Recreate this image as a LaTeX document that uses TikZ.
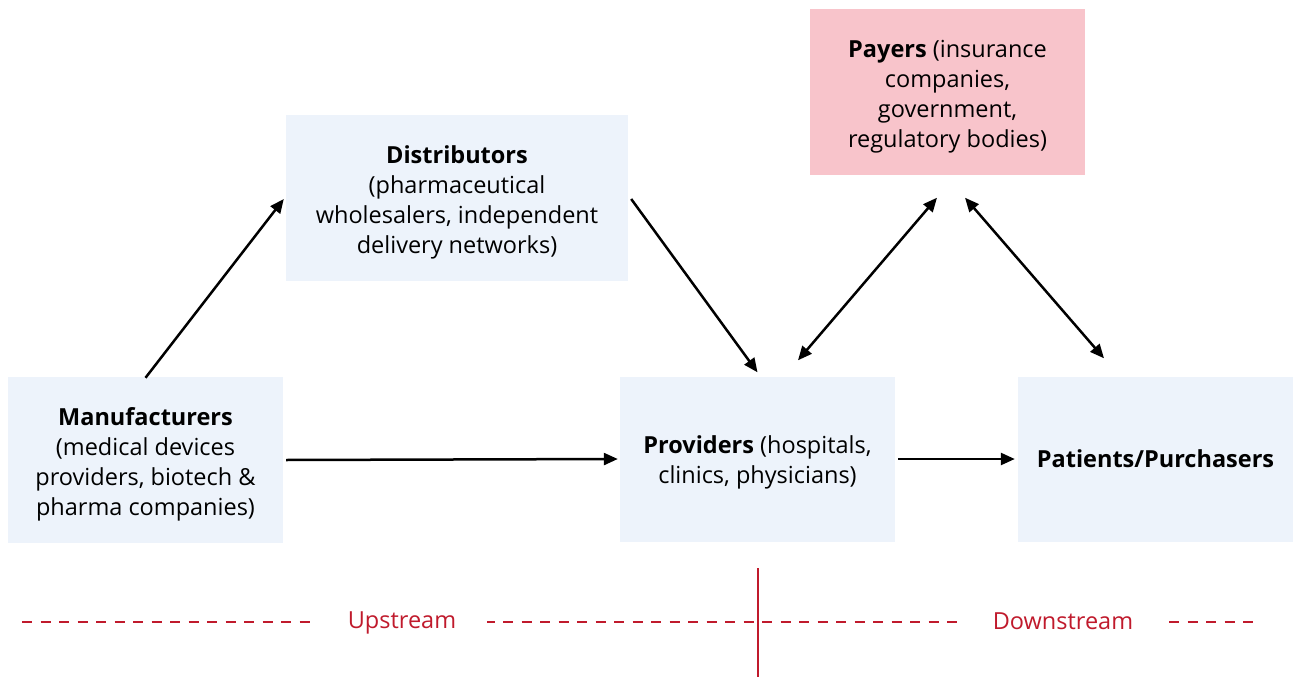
\documentclass[tikz,border=0pt]{standalone}
\usepackage{fontspec}
\setmainfont{Open Sans}
\usetikzlibrary{arrows.meta,calc}
\definecolor{boxblue}{HTML}{EDF3FB}
\definecolor{boxpink}{HTML}{F8C4CB}
\definecolor{darkred}{HTML}{C01A2C}
\newcommand{\topfix}{\rule{0pt}{26pt}}
\begin{document}
\begin{tikzpicture}[x=1pt,y=-1pt,
  box/.style={fill=boxblue,draw=none,align=center,font=\fontsize{23.5}{30}\selectfont,inner sep=0pt},
  conn/.style={line width=2.5pt,-{Triangle[length=14pt,width=12pt]}},
  biconn/.style={line width=2.5pt,{Triangle[length=14pt,width=12pt]}-{Triangle[length=14pt,width=12pt]}},
  redline/.style={draw=darkred,line width=2.4pt},
  lbl/.style={fill=white,text=darkred,font=\fontsize{23.5}{26}\selectfont,inner sep=0pt,minimum height=14pt}
]
\useasboundingbox (0,0) rectangle (1296,677);
\node[box,minimum width=275pt,minimum height=166pt] (manu) at (145.5,460)
  {\topfix\textbf{Manufacturers}\\(medical devices\\providers, biotech \&\\pharma companies)};
\node[box,minimum width=342pt,minimum height=166pt] (dist) at (457,198)
  {\topfix\textbf{Distributors}\\(pharmaceutical\\wholesalers, independent\\delivery networks)};
\node[box,minimum width=275pt,minimum height=165pt] (prov) at (757.5,459)
  {\rule{0pt}{24pt}\textbf{Providers} (hospitals,\\clinics, physicians)};
\node[box,minimum width=275pt,minimum height=165pt] (pat) at (1155.5,459)
  {\textbf{Patients/Purchasers}};
\node[box,fill=boxpink,minimum width=275pt,minimum height=165pt] (pay) at (947.5,92)
  {\topfix\textbf{Payers} (insurance\\companies,\\government,\\regulatory bodies)};

\draw[conn] ([yshift=-1pt]manu.north) -- ([xshift=-2pt,yshift=-1pt]dist.west);
\draw[conn] ([xshift=3pt,yshift=-1pt]dist.east) -- ([yshift=4pt]prov.north);
\draw[conn] ([xshift=3pt]manu.east) -- ([xshift=-2pt]prov.west);
\draw[conn] ([xshift=3pt]prov.east) -- ([xshift=-3pt]pat.west);
\draw[biconn] ([shift={(-10.5,23)}]pay.south) -- ([shift={(40.5,-16)}]prov.north);
\draw[biconn] ([shift={(17.5,23)}]pay.south) -- ([shift={(-51.5,-18)}]pat.north);

\coordinate (vtop) at (758,568);
\coordinate (vbot) at (758,677);
\coordinate (dl) at (22,622);
\coordinate (dr) at (1254,622);
\draw[redline] (vtop) -- (vbot);
\draw[redline,line width=2.8pt,dash pattern=on 10pt off 8.5pt] (dl) -- (dr);
\node[lbl,minimum width=170pt] (up) at (402,623) {Upstream};
\node[lbl,minimum width=198pt] (down) at (1063,621) {Downstream};
\end{tikzpicture}
\end{document}
